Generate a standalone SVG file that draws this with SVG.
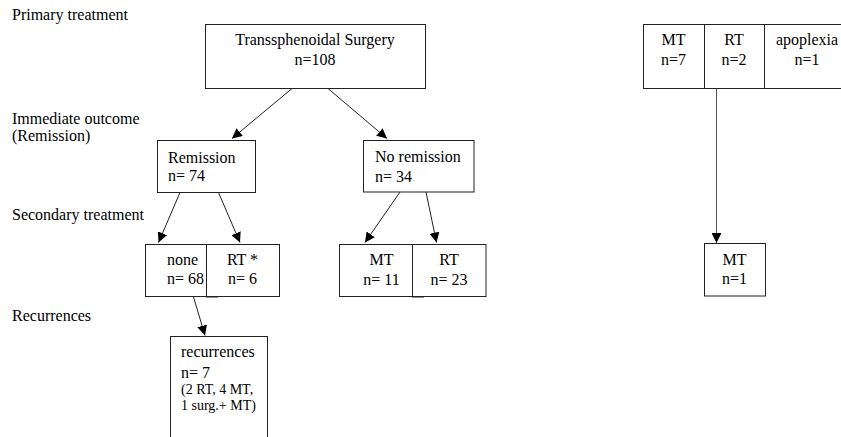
<svg xmlns="http://www.w3.org/2000/svg" width="841" height="437" viewBox="0 0 841 437" font-family="'Liberation Serif', 'Times New Roman', 'DejaVu Serif', serif">
<defs>
<style>
text{font-family:'Liberation Serif','Times New Roman','DejaVu Serif',serif;font-size:16px;fill:#000}
.small{font-size:14px}
.c{text-anchor:middle}
rect{fill:#fff;stroke:#222;stroke-width:1}
.conn line{stroke:#222;stroke-width:1;fill:none}
</style>
<marker id="ah" markerUnits="userSpaceOnUse" markerWidth="11" markerHeight="10" refX="10" refY="5" orient="auto">
<path d="M0,0 L10,5 L0,10 z" fill="#000"/>
</marker>
</defs>
<rect x="0" y="0" width="841" height="437" style="fill:#fff;stroke:none"/>
<g id="labels">
<text x="12" y="20">Primary treatment</text>
<text x="12" y="124">Immediate outcome</text>
<text x="12" y="141">(Remission)</text>
<text x="12" y="220">Secondary treatment</text>
<text x="12" y="321">Recurrences</text>
</g>
<g class="conn" id="connectors">
<line x1="292" y1="88.5" x2="232" y2="138.5" marker-end="url(#ah)"/>
<line x1="328" y1="88.5" x2="387" y2="138.5" marker-end="url(#ah)"/>
<line x1="180" y1="192.5" x2="158.5" y2="242.5" marker-end="url(#ah)"/>
<line x1="218.5" y1="192.5" x2="240" y2="242.5" marker-end="url(#ah)"/>
<line x1="400" y1="192" x2="365" y2="242.5" marker-end="url(#ah)"/>
<line x1="426" y1="192" x2="436.5" y2="242.5" marker-end="url(#ah)"/>
<line x1="193.5" y1="297" x2="205" y2="335.5" marker-end="url(#ah)"/>
<line x1="716.5" y1="88.5" x2="716.5" y2="243" marker-end="url(#ah)" style="stroke:#555"/>
</g>
<g id="n-surgery">
<rect x="205.5" y="24.5" width="220" height="64"/>
<text class="c" x="315" y="44.5">Transsphenoidal Surgery</text>
<text class="c" x="315" y="65">n=108</text>
</g>
<g id="n-remission">
<rect x="157.5" y="140.5" width="98" height="52"/>
<text x="168" y="163">Remission</text>
<text x="168" y="181">n= 74</text>
</g>
<g id="n-noremission">
<rect x="363.5" y="140.5" width="110.5" height="51.5"/>
<text x="375" y="162">No remission</text>
<text x="375" y="182">n= 34</text>
</g>
<g id="n-none">
<rect x="145.5" y="244.5" width="61" height="52"/>
<line x1="206" y1="297" x2="218" y2="297" style="stroke:#222"/>
<text x="167" y="265">none</text>
<text x="167" y="284">n= 68</text>
</g>
<g id="n-rt-star">
<rect x="206.5" y="244.5" width="73" height="52"/>
<text class="c" x="242.5" y="265">RT *</text>
<text class="c" x="242.5" y="284">n= 6</text>
</g>
<g id="n-mt11">
<rect x="339.5" y="244.5" width="73" height="52"/>
<line x1="412" y1="297" x2="424" y2="297" style="stroke:#222"/>
<text class="c" x="381.5" y="265">MT</text>
<text class="c" x="381.5" y="285">n= 11</text>
</g>
<g id="n-rt23">
<rect x="412.5" y="244.5" width="73.5" height="52"/>
<text class="c" x="449" y="265">RT</text>
<text class="c" x="449" y="285">n= 23</text>
</g>
<g id="n-recurrences">
<rect x="170.5" y="336.5" width="97" height="110"/>
<text x="181" y="357">recurrences</text>
<text x="181" y="378">n= 7</text>
<text class="small" x="181" y="394">(2 RT, 4 MT,</text>
<text class="small" x="181" y="410">1 surg.+ MT)</text>
</g>
<g id="n-mt7">
<rect x="643.5" y="24.5" width="61" height="64"/>
<text class="c" x="673.5" y="45">MT</text>
<text class="c" x="673.5" y="65">n=7</text>
</g>
<g id="n-rt2">
<rect x="704.5" y="24.5" width="60" height="64"/>
<text class="c" x="734" y="45">RT</text>
<text class="c" x="734" y="65">n=2</text>
</g>
<g id="n-apoplexia">
<rect x="764.5" y="24.5" width="85" height="64"/>
<text class="c" x="807" y="45">apoplexia</text>
<text class="c" x="807" y="65">n=1</text>
</g>
<g id="n-mt1">
<rect x="704.5" y="243.5" width="61" height="52.5"/>
<text class="c" x="734.5" y="265">MT</text>
<text class="c" x="734.5" y="284">n=1</text>
</g>
</svg>
